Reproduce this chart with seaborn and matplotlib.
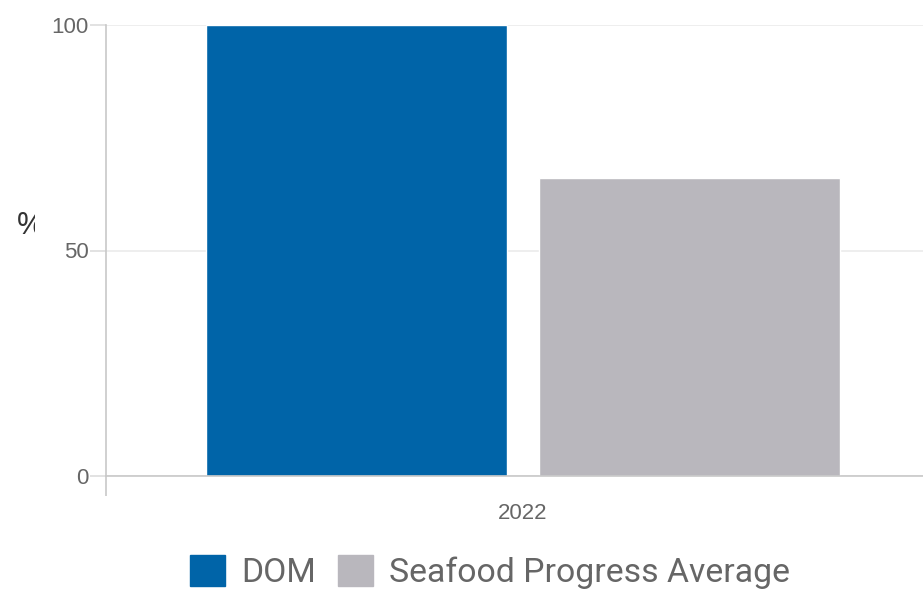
import pandas as pd
import matplotlib.pyplot as plt
import matplotlib.patches as mpatches
from matplotlib.transforms import Bbox
import seaborn as sns

years = ['2022']
series = ['DOM', 'Seafood Progress Average']
values = [100, 66]
colors = ['#0064A8', '#B9B7BD']

df = pd.DataFrame({'year': years * len(series), 'series': series, 'value': values})

sns.set_style('white')
plt.rcParams['font.family'] = ['Liberation Sans', 'DejaVu Sans']

fig = plt.figure(figsize=(9.23, 5.92), dpi=100)
# plot area runs a little past the right edge of the picture
ax = fig.add_axes([106 / 923, 116 / 592, 834 / 923, 451 / 592])

sns.barplot(data=df, x='year', y='value', hue='series', palette=colors,
            width=0.799, gap=0.099, saturation=1, legend=False, ax=ax)

ax.set_ylim(0, 100)
ax.set_xlim(-0.5, 0.5)
ax.set_yticks([0, 50, 100])
ax.set_xlabel('')
ax.set_ylabel('')
ax.grid(axis='y', color='#EBEBEB', linewidth=1.2)
ax.set_axisbelow(True)

for s in ['top', 'right']:
    ax.spines[s].set_visible(False)
for s in ['left', 'bottom']:
    ax.spines[s].set_color('#C8C8C8')
    ax.spines[s].set_linewidth(1.2)

ax.tick_params(axis='y', left=True, length=11.5, color='#DDDDDD', width=1.2,
               labelsize=16, labelcolor='#666666', pad=1)
ax.tick_params(axis='x', which='major', bottom=False, labelsize=16, labelcolor='#666666', pad=16)
ax.set_xticks([-0.5], minor=True)
ax.tick_params(axis='x', which='minor', bottom=True, length=14.4, color='#C8C8C8', width=1.2)

pct = fig.text(17 / 923, 1 - 226 / 592, '%', fontsize=22, color='#333333', va='center', ha='left')
pct.set_clip_box(Bbox.from_extents(0, 0, 35, 592))
pct.set_clip_on(True)

handles = [mpatches.Patch(color=c, label=s) for s, c in zip(series, colors)]
fig.legend(handles=handles, loc='center', bbox_to_anchor=(490 / 923, 20 / 592),
           ncol=2, frameon=False, labelcolor='#666666',
           handlelength=1.05, handleheight=1.05, handletextpad=0.48, columnspacing=0.63,
           prop={'family': 'Roboto', 'size': 24.3})

fig.savefig('out.png', dpi=100)
